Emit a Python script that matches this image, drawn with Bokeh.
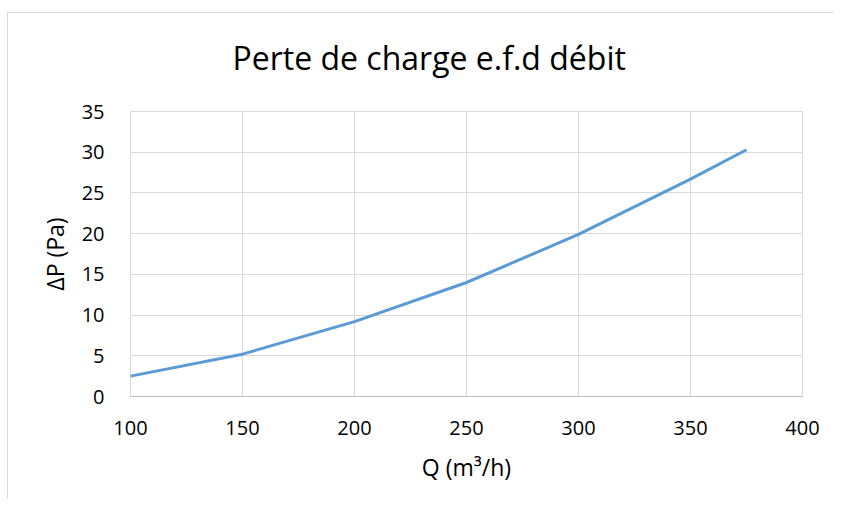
from bokeh.plotting import figure
from bokeh.embed import file_html
from bokeh.resources import INLINE
from bokeh.models import Range1d, FixedTicker

# Data
debit = [100, 150, 200, 250, 300, 350, 375]
perte = [2.5, 5.2, 9.2, 14.0, 19.9, 26.7, 30.3]
x_ticks = [100, 150, 200, 250, 300, 350, 400]
y_ticks = [0, 5, 10, 15, 20, 25, 30, 35]

FONT = "Open Sans"

p = figure(width=834, height=499, output_backend="svg", toolbar_location=None,
           x_range=Range1d(100, 400), y_range=Range1d(0, 35),
           min_border_left=130, min_border_right=32, min_border_top=111, min_border_bottom=103)

# outer chart-area frame (light grey lines at left and top)
p.styles = {"background": "linear-gradient(#d9d9d9, #d9d9d9) 7px 12px / 1px 100% no-repeat, "
                          "linear-gradient(#d9d9d9, #d9d9d9) 7px 12px / 100% 1px no-repeat, white"}
p.border_fill_color = None
p.background_fill_color = "white"

p.title.text = "Perte de charge e.f.d débit"
p.title.align = "left"
p.title.offset = 102
p.title.standoff = 65
p.title.text_font = FONT
p.title.text_font_size = "32px"
p.title.text_font_style = "normal"
p.title.text_color = "#000000"

p.line(debit, perte, line_color="#5b9bd5", line_width=3)

p.xaxis.ticker = FixedTicker(ticks=x_ticks)
p.yaxis.ticker = FixedTicker(ticks=y_ticks)
for ax in (p.xaxis[0], p.yaxis[0]):
    ax.major_tick_line_color = None
    ax.minor_tick_line_color = None
    ax.major_label_text_font = FONT
    ax.major_label_text_font_size = "20px"
    ax.major_label_text_color = "#000000"
    ax.axis_label_text_font = FONT
    ax.axis_label_text_font_size = "23px"
    ax.axis_label_text_font_style = "normal"
    ax.axis_label_text_color = "#000000"
p.xaxis.axis_label = "Q (m³/h)"
p.yaxis.axis_label = "ΔP (Pa)"
p.xaxis.axis_line_color = "#bfbfbf"
p.yaxis.axis_line_color = None
p.xaxis.major_label_standoff = 18
p.yaxis.major_label_standoff = 20
p.xaxis.axis_label_standoff = 13
p.yaxis.axis_label_standoff = 8

p.xgrid.grid_line_color = "#d9d9d9"
p.ygrid.grid_line_color = "#d9d9d9"
p.outline_line_color = "#d9d9d9"

open("out.html", "w").write(file_html(p, INLINE))
